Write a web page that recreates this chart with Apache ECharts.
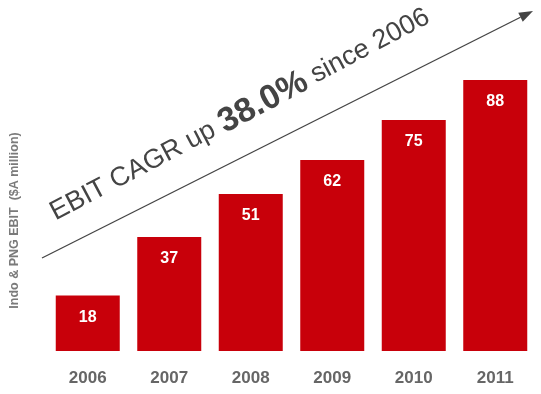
<!DOCTYPE html>
<html>
<head>
<meta charset="utf-8">
<script src="https://cdn.jsdelivr.net/npm/echarts@6/dist/echarts.min.js"></script>
<style>
  html, body { margin: 0; padding: 0; background: #ffffff; }
  #chart { width: 541px; height: 394px; }
</style>
</head>
<body>
<div id="chart"></div>
<script>
// EBIT by year, $A million
const years = ['2006', '2007', '2008', '2009', '2010', '2011'];
const ebit = [18, 37, 51, 62, 75, 88];
const axisTitle = 'Indo & PNG EBIT  ($A million)';
const cagrText = ['EBIT CAGR up ', '38.0%', ' since 2006'];

const FONT = '"Liberation Sans", Arial, sans-serif';
const chart = echarts.init(document.getElementById('chart'), null, { renderer: 'canvas' });

// Trend arrow geometry (decoration above the bars)
const arrowStart = [42, 258];
const arrowTip = [533, 11];
const ang = Math.atan2(arrowStart[1] - arrowTip[1], arrowTip[0] - arrowStart[0]);
const headLen = 14, headHalf = 5;
const ux = Math.cos(ang), uy = -Math.sin(ang);
const baseX = arrowTip[0] - ux * headLen, baseY = arrowTip[1] - uy * headLen;
const px = -uy, py = ux;

chart.setOption({
  backgroundColor: '#ffffff',
  animation: false,
  grid: { left: 47, right: 5, top: 80, bottom: 43 },
  xAxis: {
    type: 'category',
    data: years,
    axisLine: { show: false },
    axisTick: { show: false },
    axisLabel: {
      color: '#666666',
      fontFamily: FONT,
      fontWeight: 'bold',
      fontSize: 17,
      margin: 19
    }
  },
  yAxis: {
    type: 'value',
    min: 0,
    max: 88,
    name: axisTitle,
    nameLocation: 'middle',
    nameRotate: 90,
    nameGap: 26,
    nameTextStyle: {
      color: '#7a7a7a',
      fontFamily: FONT,
      fontWeight: 'bold',
      fontSize: 12.5,
      padding: [0, 10, 0, 0]
    },
    axisLine: { show: false },
    axisTick: { show: false },
    axisLabel: { show: false },
    splitLine: { show: false }
  },
  series: [{
    type: 'bar',
    data: ebit,
    barWidth: 64,
    itemStyle: { color: '#c8000a' },
    label: {
      show: true,
      position: 'insideTop',
      distance: 14,
      color: '#ffffff',
      fontFamily: FONT,
      fontWeight: 'bold',
      fontSize: 16
    }
  }],
  graphic: [
    {
      type: 'line',
      shape: { x1: arrowStart[0], y1: arrowStart[1], x2: baseX, y2: baseY },
      style: { stroke: '#444444', lineWidth: 1.3 }
    },
    {
      type: 'polygon',
      shape: {
        points: [
          arrowTip,
          [baseX + px * headHalf, baseY + py * headHalf],
          [baseX - px * headHalf, baseY - py * headHalf]
        ]
      },
      style: { fill: '#444444' }
    },
    {
      type: 'text',
      x: 60,
      y: 229,
      rotation: ang + 0.02,
      style: {
        text: '{a|' + cagrText[0] + '}{b|' + cagrText[1] + '}{a|' + cagrText[2] + '}',
        x: 0,
        y: 0,
        verticalAlign: 'bottom',
        rich: {
          a: { fontFamily: FONT, fontSize: 27, fill: '#444444', color: '#444444' },
          b: { fontFamily: FONT, fontWeight: 'bold', fontSize: 34, fill: '#444444', color: '#444444' }
        }
      }
    }
  ]
});
</script>
</body>
</html>
